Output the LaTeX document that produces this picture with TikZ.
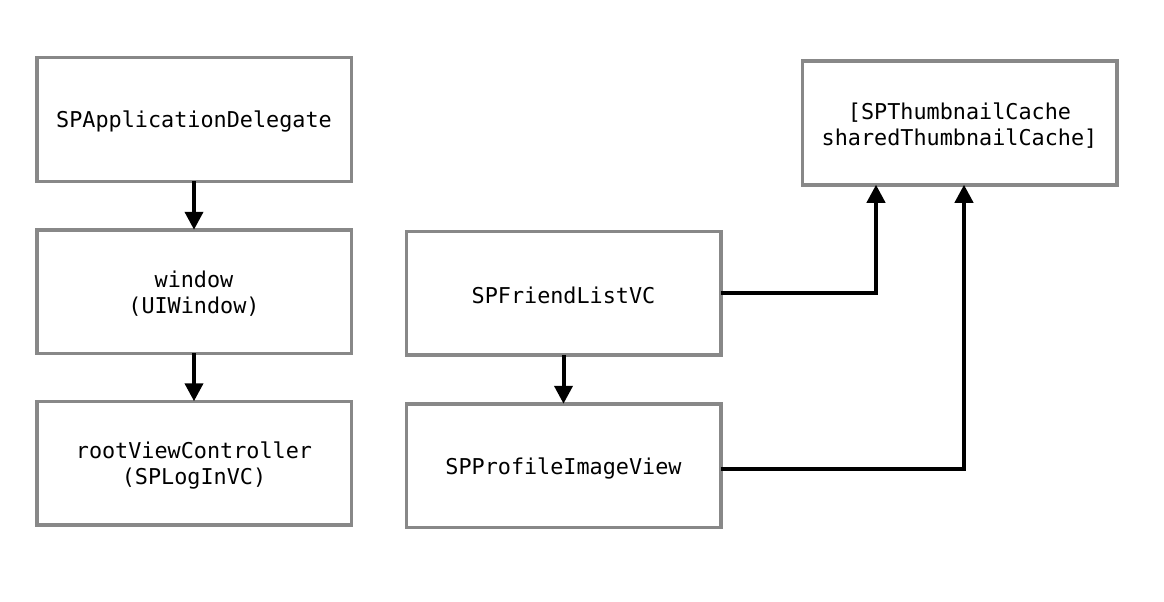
\documentclass[tikz,border=0pt]{standalone}
\usepackage{fontspec}
\setmonofont{DejaVu Sans Mono}
\usetikzlibrary{arrows.meta,calc}
\begin{document}
\begin{tikzpicture}[x=1pt,y=-1pt,
  box/.style={draw=boxgray,line width=3.5pt,minimum width=314.5pt,minimum height=123.5pt,
    inner sep=0pt,outer sep=0pt},
  boxtext/.style={align=center,inner sep=0pt,yshift=-2.5pt,font=\ttfamily\fontsize{21.8}{26}\selectfont},
  conn/.style={line width=4pt,-{Triangle[width=18pt,length=18pt]}}]
\definecolor{boxgray}{HTML}{888888}
\useasboundingbox (0,0) rectangle (1164,602);
\node[box,label={[boxtext]center:SPApplicationDelegate}] (app) at (194,119.5) {};
\node[box,label={[boxtext]center:window\\(UIWindow)}] (win) at (194,291.5) {};
\node[box,label={[boxtext]center:rootViewController\\(SPLogInVC)}] (root) at (194,463) {};
\node[box,label={[boxtext]center:SPFriendListVC}] (friend) at (563.5,293) {};
\node[box,label={[boxtext]center:SPProfileImageView}] (prof) at (563.5,465.5) {};
\node[box,label={[boxtext]center:[SPThumbnailCache\\sharedThumbnailCache]}] (cache) at (959.5,123) {};
\draw[conn] (app.south) -- (win.north);
\draw[conn] (win.south) -- (root.north);
\draw[conn] (friend.south) -- (prof.north);
\draw[conn] (friend.east) -| ([xshift=-83.5pt]cache.south);
\draw[conn] ([yshift=-3.5pt]prof.east) -| ([xshift=4.5pt]cache.south);
\end{tikzpicture}
\end{document}
